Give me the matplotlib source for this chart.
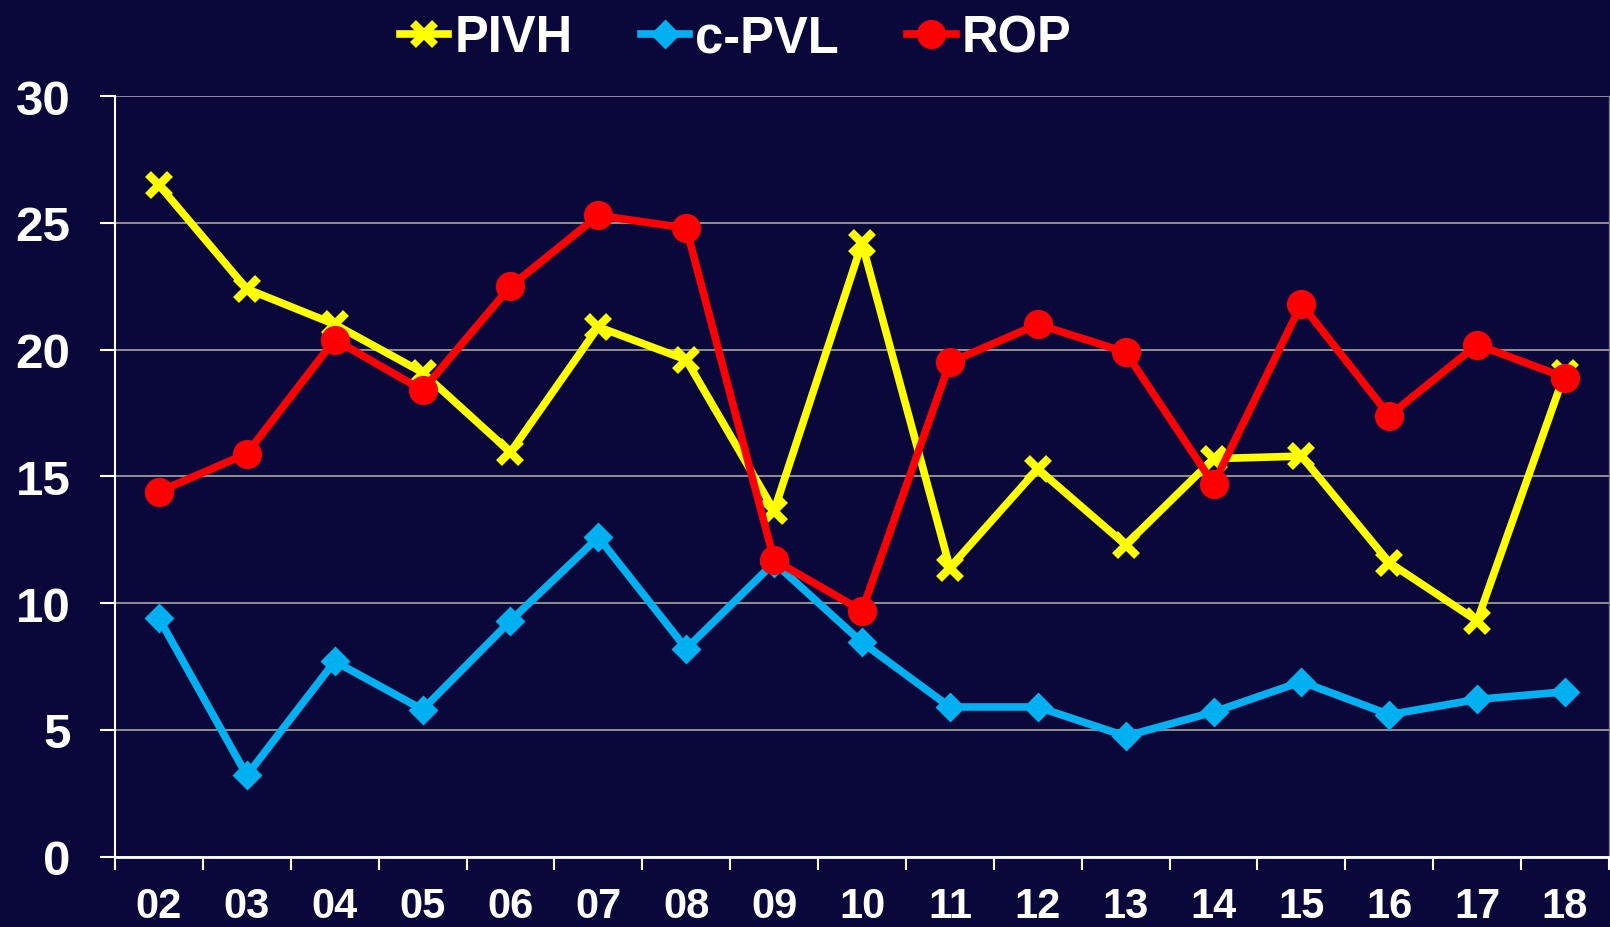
import matplotlib
matplotlib.use("Agg")
import matplotlib.pyplot as plt
from matplotlib.ticker import FixedLocator

years = ["02", "03", "04", "05", "06", "07", "08", "09", "10",
         "11", "12", "13", "14", "15", "16", "17", "18"]

pivh = [26.5, 22.4, 21.0, 19.1, 15.95, 20.9, 19.6, 13.65, 24.2,
        11.4, 15.3, 12.3, 15.7, 15.8, 11.6, 9.3, 19.1]
cpvl = [9.4, 3.2, 7.7, 5.8, 9.3, 12.6, 8.2, 11.6, 8.45,
        5.9, 5.9, 4.75, 5.7, 6.9, 5.6, 6.2, 6.5]
rop = [14.4, 15.9, 20.4, 18.4, 22.5, 25.3, 24.8, 11.7, 9.7,
       19.5, 21.0, 19.9, 14.7, 21.8, 17.4, 20.2, 18.9]

bg = "#0a083b"
plt.rcParams["font.family"] = ["Liberation Sans", "DejaVu Sans"]
plt.rcParams["font.weight"] = "bold"

fig = plt.figure(figsize=(16.1, 9.28), dpi=100, facecolor=bg)
ax = fig.add_axes([115 / 1610, 1 - 857.5 / 928, (1609 - 115) / 1610, (857.5 - 97.3) / 928])
ax.set_facecolor(bg)

x = list(range(len(years)))

ax.plot(x, pivh, color="#ffff00", lw=5.5, marker="x", ms=16, mew=6,
        label="PIVH", zorder=3)
ax.plot(x, cpvl, color="#00b0f0", lw=5.5, marker="D", ms=13, mec="#00b0f0",
        mew=2, label="c-PVL", zorder=4)
ax.plot(x, rop, color="#ff0000", lw=5.5, marker="o", ms=20, label="ROP", zorder=5)

ax.set_xlim(-0.5, len(years) - 0.5)
ax.set_ylim(0, 30)
ax.set_yticks([0, 5, 10, 15, 20, 25, 30])

# labels at the categories, tick marks between them
ax.set_xticks(x)
ax.set_xticklabels(years)
ax.xaxis.set_minor_locator(FixedLocator([i - 0.5 for i in range(len(years) + 1)]))
ax.tick_params(axis="x", which="major", length=0, pad=21, labelsize=30, labelcolor="white")
ax.tick_params(axis="x", which="minor", length=9, width=1.5, color="white")
ax.tick_params(axis="y", length=11, width=1.5, color="white", pad=21, labelsize=35.5,
               labelcolor="white")

ax.grid(axis="y", color="#9a9a9a", lw=1.3)
ax.set_axisbelow(True)

ax.spines["top"].set_visible(False)
ax.spines["right"].set_color("#7a7a7a")
ax.spines["right"].set_linewidth(1)
ax.spines["left"].set_color("white")
ax.spines["left"].set_linewidth(1.5)
ax.spines["bottom"].set_color("white")
ax.spines["bottom"].set_linewidth(2)

leg = fig.legend(loc="center left", bbox_to_anchor=(400 / 1610, 1 - 39 / 928), ncol=3,
                 frameon=False, fontsize=36.5, handlelength=0.95, handletextpad=0.12,
                 columnspacing=1.35, borderpad=0, borderaxespad=0)
for t in leg.get_texts():
    t.set_color("white")

fig.savefig("out.png", dpi=100, facecolor=bg)
